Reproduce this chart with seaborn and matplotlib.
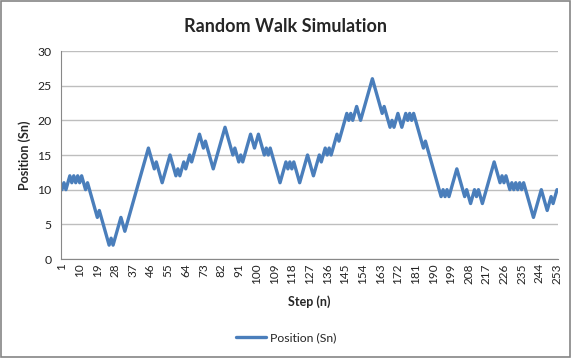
import matplotlib.pyplot as plt
import matplotlib.patches as mpatches
import numpy as np
import pandas as pd
import seaborn as sns

# step numbers and walk positions
steps = list(range(1, 254))
positions = [
    10, 11, 10, 11, 12, 11, 12, 11, 12, 11, 12, 11, 10, 11, 10, 9, 8, 7, 6, 7,
    6, 5, 4, 3, 2, 3, 2, 3, 4, 5, 6, 5, 4, 5, 6, 7, 8, 9, 10, 11,
    12, 13, 14, 15, 16, 15, 14, 13, 14, 13, 12, 11, 12, 13, 14, 15, 14, 13, 12, 13,
    12, 13, 14, 13, 14, 15, 14, 15, 16, 17, 18, 17, 16, 17, 16, 15, 14, 13, 14, 15,
    16, 17, 18, 19, 18, 17, 16, 15, 16, 15, 14, 15, 14, 15, 16, 17, 18, 17, 16, 17,
    18, 17, 16, 15, 16, 15, 16, 15, 14, 13, 12, 11, 12, 13, 14, 13, 14, 13, 14, 13,
    12, 11, 12, 13, 14, 15, 14, 13, 12, 13, 14, 15, 14, 15, 16, 15, 16, 15, 16, 17,
    18, 17, 18, 19, 20, 21, 20, 21, 20, 21, 22, 21, 20, 21, 22, 23, 24, 25, 26, 25,
    24, 23, 22, 21, 22, 21, 20, 19, 20, 19, 20, 21, 20, 19, 20, 21, 20, 21, 20, 21,
    20, 19, 18, 17, 16, 17, 16, 15, 14, 13, 12, 11, 10, 9, 10, 9, 10, 9, 10, 11,
    12, 13, 12, 11, 10, 9, 10, 9, 8, 9, 10, 9, 10, 9, 8, 9, 10, 11, 12, 13,
    14, 13, 12, 11, 12, 11, 12, 11, 10, 11, 10, 11, 10, 11, 10, 11, 10, 9, 8, 7,
    6, 7, 8, 9, 10, 9, 8, 7, 8, 9, 8, 9, 10,
]
x_ticks = list(range(1, 254, 9))
y_ticks = [0, 5, 10, 15, 20, 25, 30]

LINE = "#4A7EBB"

sns.set_theme(style="white")
plt.rcParams["font.family"] = ["Lato", "DejaVu Sans"]

df = pd.DataFrame({"Step (n)": steps, "Position (Sn)": positions})

fig, ax = plt.subplots(figsize=(5.72, 3.58), dpi=100)
fig.subplots_adjust(left=61 / 572, right=558 / 572, top=1 - 51 / 358, bottom=1 - 259 / 358)

sns.lineplot(data=df, x="Step (n)", y="Position (Sn)", ax=ax, color=LINE,
             linewidth=2.4, label="Position (Sn)", legend=False)

ax.set_xlim(0.5, 253.5)
ax.set_ylim(0, 30)
ax.set_yticks(y_ticks)
ax.set_xticks(x_ticks)
ax.set_xticklabels([str(t) for t in x_ticks], rotation=90, fontsize=8.5)
ax.tick_params(axis="y", labelsize=8.8, length=0, pad=7, labelcolor="#222222")
ax.tick_params(axis="x", length=0, pad=3, labelcolor="#222222")
ax.grid(axis="y", color="#BEBEBE", linewidth=1)
ax.set_axisbelow(True)
for s in ["top", "right"]:
    ax.spines[s].set_visible(False)
ax.spines["left"].set_color("#888888")
ax.spines["bottom"].set_color("#888888")
ax.spines["left"].set_linewidth(0.8)
ax.spines["bottom"].set_linewidth(0.8)

ax.set_xlabel("Step (n)", fontsize=9, fontweight="bold", labelpad=8)
ax.set_ylabel("Position (Sn)", fontsize=9, fontweight="bold", labelpad=4)
fig.suptitle("Random Walk Simulation", x=286 / 572, y=1 - 26 / 358, va="center",
             fontsize=13, fontweight="bold")

handles, labels = ax.get_legend_handles_labels()
fig.legend(handles, labels, loc="center", bbox_to_anchor=(0.5, 1 - 338 / 358),
           frameon=False, fontsize=8.8, handlelength=2.5, handletextpad=0.3)

fig.patches.append(mpatches.Rectangle((0.002, 0.003), 0.995, 0.994, transform=fig.transFigure,
                                      fill=False, edgecolor="#858585", linewidth=1.2))

fig.savefig("out.png", dpi=100)
